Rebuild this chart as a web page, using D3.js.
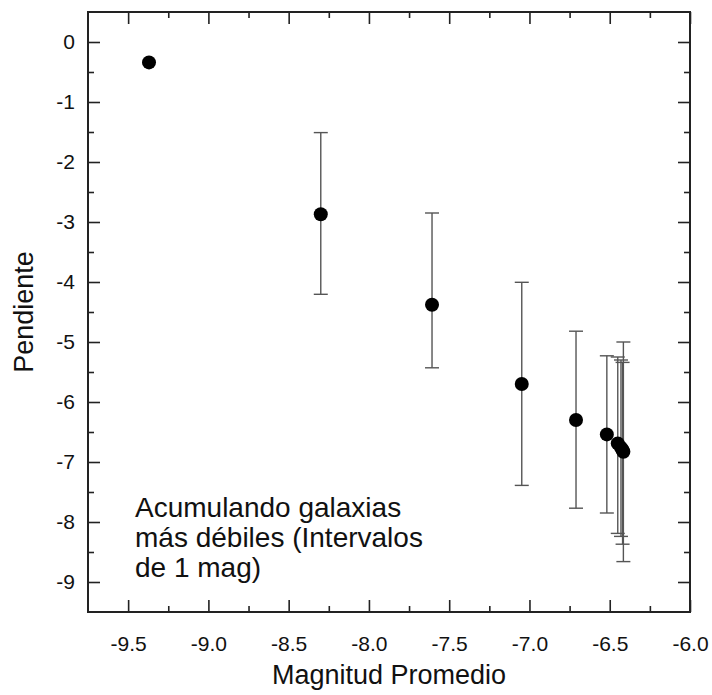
<!DOCTYPE html>
<html>
<head>
<meta charset="utf-8">
<script src="https://cdn.jsdelivr.net/npm/d3@7"></script>
<style>
  body { margin: 0; background: #fff; }
  svg { display: block; font-family: "Liberation Sans", Arial, sans-serif; }
</style>
</head>
<body>
<svg width="712" height="695"></svg>
<script>
// Magnitud promedio (x), pendiente (y) and error bar ends
const magnitudes = [-9.37, -8.30, -7.607, -7.048, -6.71, -6.518, -6.45, -6.43, -6.42, -6.415];
const slopes     = [-0.34, -2.87, -4.38, -5.70, -6.30, -6.54, -6.69, -6.76, -6.80, -6.83];
const errTop     = [null, -1.51, -2.85, -4.005, -4.82, -5.23, -5.25, -5.30, -5.34, -5.00];
const errBottom  = [null, -4.205, -5.43, -7.39, -7.77, -7.85, -8.19, -8.24, -8.37, -8.66];

const xMajorTicks = [-9.5, -9.0, -8.5, -8.0, -7.5, -7.0, -6.5, -6.0];
const xMinorTicks = [-9.25, -8.75, -8.25, -7.75, -7.25, -6.75, -6.25];
const yMajorTicks = [0, -1, -2, -3, -4, -5, -6, -7, -8, -9];
const yMinorTicks = [-0.5, -1.5, -2.5, -3.5, -4.5, -5.5, -6.5, -7.5, -8.5];

const annotation = ["Acumulando galaxias", "más débiles (Intervalos", "de 1 mag)"];

const data = magnitudes.map((m, i) => ({
  x: m, y: slopes[i], top: errTop[i], bottom: errBottom[i]
}));

const svg = d3.select("svg");
const margin = { top: 12, right: 22, bottom: 83, left: 88 };
const width = +svg.attr("width") - margin.left - margin.right;
const height = +svg.attr("height") - margin.top - margin.bottom;

const g = svg.append("g").attr("transform", `translate(${margin.left},${margin.top})`);

const x = d3.scaleLinear().domain([-9.75, -6.0]).range([0, width]);
const y = d3.scaleLinear().domain([-9.5, 0.5]).range([height, 0]);

const major = 12, minor = 6;

// axes helper: inward ticks, major + minor
function styleAxis(sel) {
  sel.select(".domain").remove();
  sel.selectAll(".tick line").attr("stroke", "#222").attr("stroke-width", 1.6);
  sel.selectAll("text").attr("fill", "#111").style("font-size", "21px");
}

// bottom
g.append("g")
  .attr("transform", `translate(0,${height})`)
  .call(d3.axisBottom(x).tickValues(xMajorTicks).tickSize(-major).tickPadding(24)
    .tickFormat(d => d.toFixed(1)))
  .call(styleAxis);
g.append("g")
  .attr("transform", `translate(0,${height})`)
  .call(d3.axisBottom(x).tickValues(xMinorTicks).tickSize(-minor).tickFormat(""))
  .call(styleAxis);

// top
g.append("g")
  .call(d3.axisTop(x).tickValues(xMajorTicks).tickSize(-major).tickFormat(""))
  .call(styleAxis);
g.append("g")
  .call(d3.axisTop(x).tickValues(xMinorTicks).tickSize(-minor).tickFormat(""))
  .call(styleAxis);

// left
g.append("g")
  .call(d3.axisLeft(y).tickValues(yMajorTicks).tickSize(-major).tickPadding(13)
    .tickFormat(d => String(d)))
  .call(styleAxis);
g.append("g")
  .call(d3.axisLeft(y).tickValues(yMinorTicks).tickSize(-minor).tickFormat(""))
  .call(styleAxis);

// right
g.append("g")
  .attr("transform", `translate(${width},0)`)
  .call(d3.axisRight(y).tickValues(yMajorTicks).tickSize(-major).tickFormat(""))
  .call(styleAxis);
g.append("g")
  .attr("transform", `translate(${width},0)`)
  .call(d3.axisRight(y).tickValues(yMinorTicks).tickSize(-minor).tickFormat(""))
  .call(styleAxis);

// frame
g.append("rect")
  .attr("width", width)
  .attr("height", height)
  .attr("fill", "none")
  .attr("stroke", "#222")
  .attr("stroke-width", 2);

// error bars
const bars = g.selectAll(".err")
  .data(data.filter(d => d.top !== null))
  .enter().append("g")
  .attr("class", "err")
  .attr("stroke", "#555")
  .attr("stroke-width", 1.4);

bars.append("line")
  .attr("x1", d => x(d.x)).attr("x2", d => x(d.x))
  .attr("y1", d => y(d.top)).attr("y2", d => y(d.bottom));
bars.append("line")
  .attr("x1", d => x(d.x) - 7).attr("x2", d => x(d.x) + 7)
  .attr("y1", d => y(d.top)).attr("y2", d => y(d.top));
bars.append("line")
  .attr("x1", d => x(d.x) - 7).attr("x2", d => x(d.x) + 7)
  .attr("y1", d => y(d.bottom)).attr("y2", d => y(d.bottom));

// points
g.selectAll(".dot")
  .data(data)
  .enter().append("circle")
  .attr("class", "dot")
  .attr("cx", d => x(d.x))
  .attr("cy", d => y(d.y))
  .attr("r", 7)
  .attr("fill", "#000");

// annotation
const note = g.append("text")
  .attr("x", 47)
  .attr("y", 505)
  .style("font-size", "28px")
  .attr("fill", "#111");
note.selectAll("tspan")
  .data(annotation)
  .enter().append("tspan")
  .attr("x", 47)
  .attr("dy", (d, i) => i === 0 ? 0 : 30)
  .text(d => d);

// X Axis Label
svg.append("text")
  .attr("x", margin.left + width / 2)
  .attr("y", 684)
  .attr("text-anchor", "middle")
  .style("font-size", "27px")
  .attr("fill", "#111")
  .text("Magnitud Promedio");

// Y Axis Label
svg.append("text")
  .attr("transform", `translate(33,${margin.top + height / 2}) rotate(-90)`)
  .attr("text-anchor", "middle")
  .style("font-size", "27px")
  .attr("fill", "#111")
  .text("Pendiente");
</script>
</body>
</html>
